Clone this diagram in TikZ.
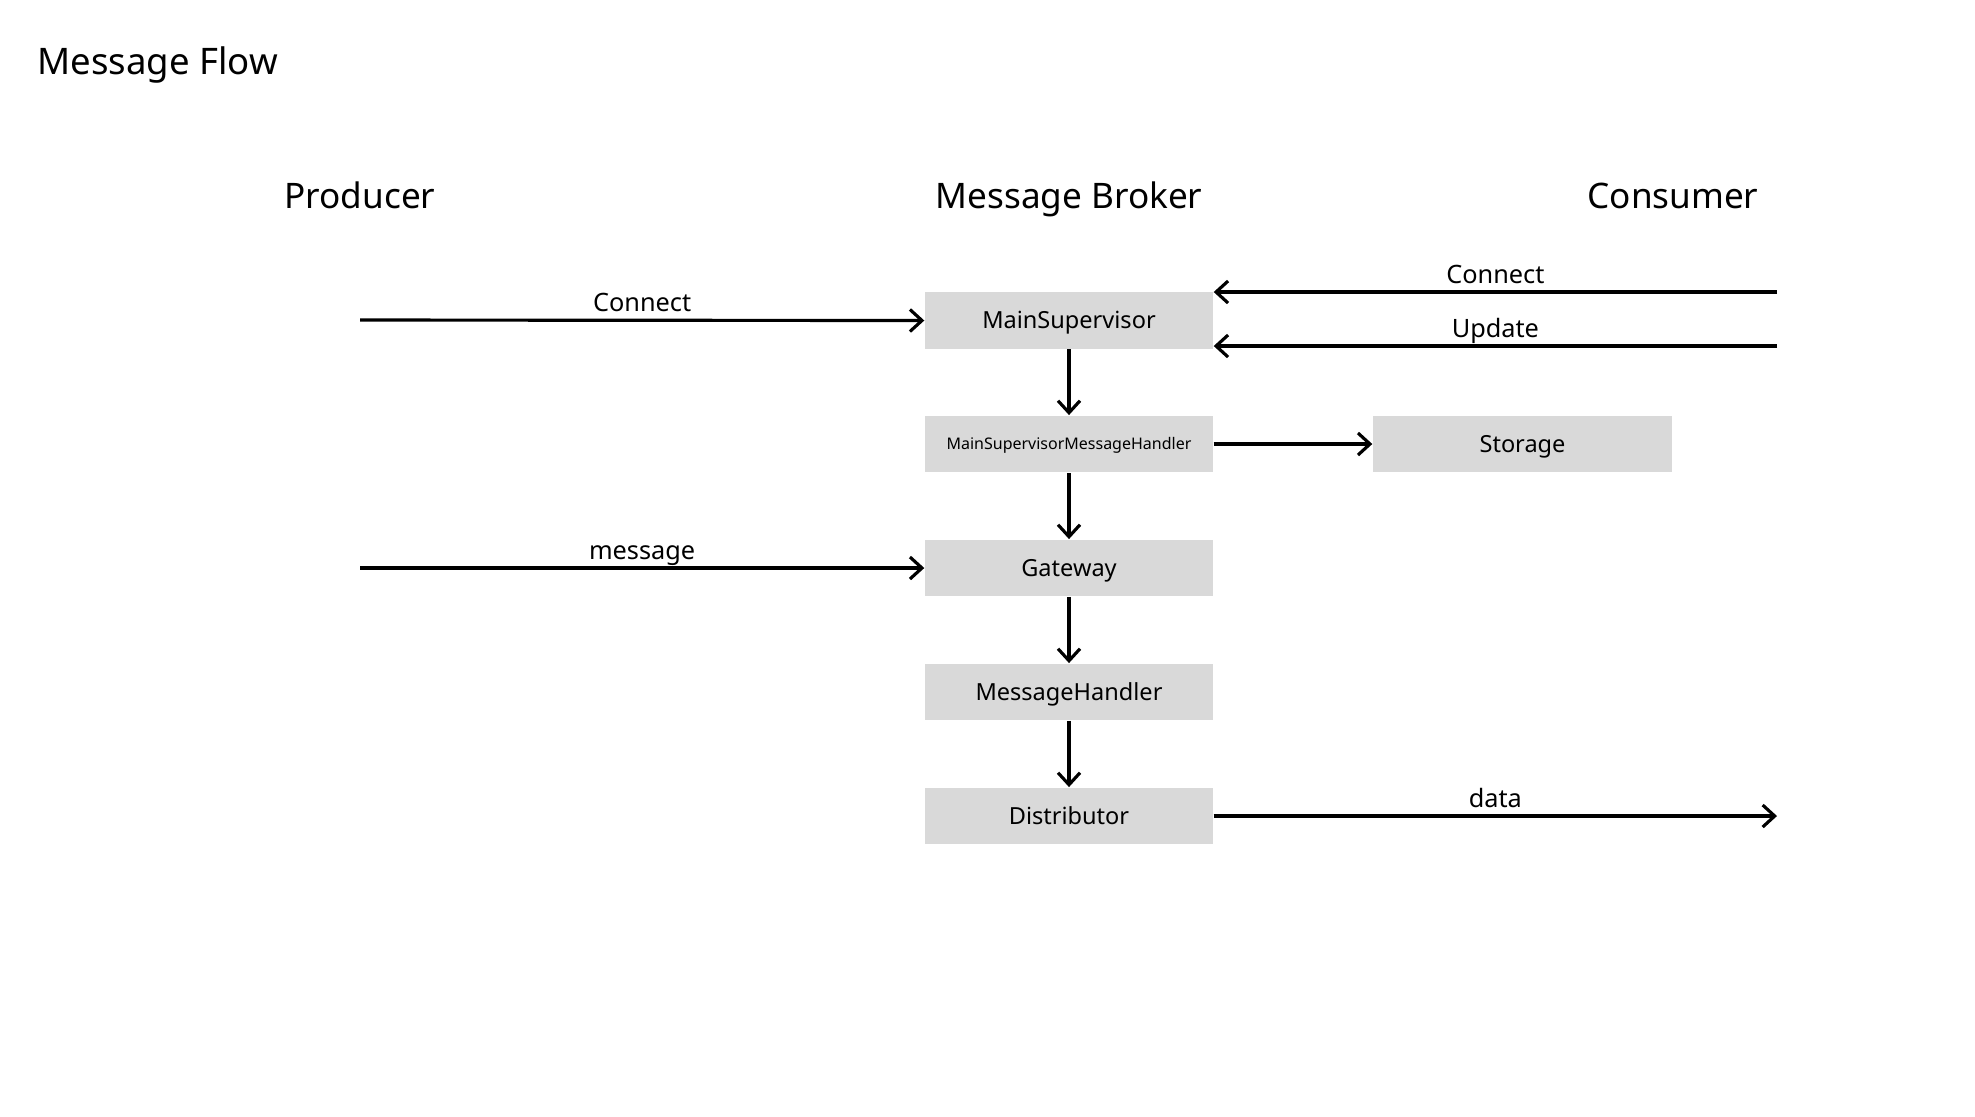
\documentclass[tikz,border=0pt]{standalone}
\usepackage{fontspec}
\setmainfont{Noto Sans}
\usetikzlibrary{arrows.meta}
\definecolor{boxgray}{HTML}{D9D9D9}

\begin{document}
\begin{tikzpicture}[
  box/.style={fill=boxgray, minimum width=2.88cm, minimum height=0.565cm, inner sep=0pt, text height=4.8pt, text depth=0pt, font=\fontsize{6.7}{8}\selectfont},
  arr/.style={-{Straight Barb[length=1.2mm,width=2.2mm]}, line width=0.9pt},
  lbl/.style={font=\fontsize{7.2}{9}\selectfont, anchor=base, yshift=2.5pt, inner sep=0pt},
  head/.style={font=\fontsize{10}{12}\selectfont, anchor=base, inner sep=0pt}
]
\useasboundingbox (0,0) rectangle (19.75,-11.16);

\node[head, anchor=base west, font=\fontsize{10.4}{12}\selectfont] (title) at (0.37,-0.74) {Message Flow};

% the three parties
\node[head] (producer) at (3.60,-2.08) {Producer};
\node[head] (broker) at (10.69,-2.08) {Message Broker};
\node[head] (consumer) at (16.73,-2.08) {Consumer};

% broker internals
\node[box] (ms) at (10.69,-3.205) {MainSupervisor};
\node[box, font=\fontsize{4.55}{5}\selectfont, text height=3.25pt] (msmh) at (10.69,-4.44) {MainSupervisorMessageHandler};
\node[box] (gw) at (10.69,-5.68) {Gateway};
\node[box] (mh) at (10.69,-6.92) {MessageHandler};
\node[box] (dist) at (10.69,-8.16) {Distributor};
\node[box, minimum width=2.99cm] (store) at (15.225,-4.44) {Storage};

\coordinate (pconnect) at (3.60,-3.20);
\coordinate (pmessage) at (3.60,-5.68);
\coordinate (cconnect) at (17.77,-2.92);
\coordinate (cupdate) at (17.77,-3.46);
\coordinate (cdata) at (17.77,-8.16);

\draw[arr] (pconnect) -- (ms.west) node[lbl, midway] {Connect};
\draw[arr] (pmessage) -- (gw.west) node[lbl, midway] {message};
\draw[arr] (cconnect) -- (cconnect -| ms.east) node[lbl, midway] {Connect};
\draw[arr] (cupdate) -- (cupdate -| ms.east) node[lbl, midway] {Update};
\draw[arr] (dist.east) -- (cdata) node[lbl, midway] {data};

\draw[arr] (ms) -- (msmh);
\draw[arr] (msmh) -- (gw);
\draw[arr] (gw) -- (mh);
\draw[arr] (mh) -- (dist);
\draw[arr] (msmh) -- (store);
\end{tikzpicture}
\end{document}
